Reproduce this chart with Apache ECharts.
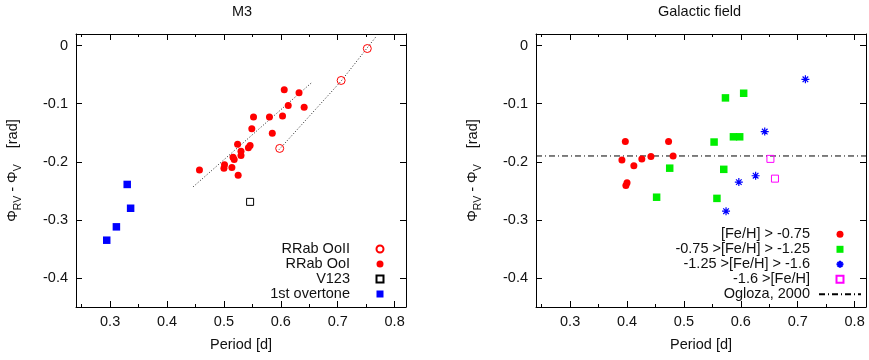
<!DOCTYPE html>
<html>
<head>
<meta charset="utf-8">
<script src="https://cdn.jsdelivr.net/npm/echarts@6/dist/echarts.min.js"></script>
<style>
html,body{margin:0;padding:0;background:#fff;}
#chart{width:869px;height:360px;}
</style>
</head>
<body>
<div id="chart"></div>
<script>
// ---- tick values ----
const xMajorTicks = [0.3, 0.4, 0.5, 0.6, 0.7, 0.8];
const xMinorTicks = [0.25, 0.35, 0.45, 0.55, 0.65, 0.75];
const yTicks = [0, -0.1, -0.2, -0.3, -0.4];

// ---- M3 panel: [period, phase difference] ----
const m3OoII = [[0.752, -0.005], [0.706, -0.060], [0.598, -0.177]];
const m3OoI = [
  [0.457, -0.214], [0.501, -0.205], [0.500, -0.211], [0.514, -0.210],
  [0.516, -0.192], [0.518, -0.196], [0.525, -0.223], [0.524, -0.170],
  [0.530, -0.182], [0.530, -0.189], [0.543, -0.176], [0.546, -0.172],
  [0.549, -0.143], [0.552, -0.123], [0.580, -0.123], [0.585, -0.151],
  [0.603, -0.121], [0.606, -0.076], [0.613, -0.103], [0.632, -0.081],
  [0.641, -0.106]
];
const m3V123 = [[0.546, -0.269]];
const m3Overtone = [[0.330, -0.239], [0.336, -0.280], [0.311, -0.312], [0.294, -0.335]];
const m3FitOoI = [[0.446, -0.243], [0.655, -0.063]];
const m3FitOoII = [[0.597, -0.179], [0.706, -0.061], [0.767, 0.015]];

// ---- Galactic field panel ----
const fieldMetalRich = [
  [0.397, -0.165], [0.391, -0.197], [0.412, -0.207], [0.426, -0.195],
  [0.442, -0.191], [0.473, -0.165], [0.481, -0.190], [0.400, -0.236],
  [0.398, -0.241]
];
const fieldMid = [
  [0.452, -0.261], [0.475, -0.211], [0.558, -0.263], [0.570, -0.213],
  [0.553, -0.166], [0.573, -0.090], [0.605, -0.082], [0.587, -0.157],
  [0.598, -0.157]
];
const fieldPoor = [[0.7135, -0.058], [0.642, -0.148], [0.626, -0.224], [0.5965, -0.235], [0.574, -0.285]];
const fieldVeryPoor = [[0.652, -0.195], [0.660, -0.229]];
const oglozaLine = [[0.24, -0.19], [0.82, -0.19]];

const xRange = [0.24, 0.82];
const yRange = [-0.45, 0.02];

const FONT = 'Liberation Sans, Arial, Helvetica, sans-serif';
const FS = 14.5;
const TXT = '#111';

const chart = echarts.init(document.getElementById('chart'), null, {renderer: 'canvas'});

function xAxes(gridIndex) {
  const base = {
    type: 'value', gridIndex, min: xRange[0], max: xRange[1],
    splitLine: {show: false}
  };
  return [
    Object.assign({}, base, {
      position: 'bottom',
      axisLine: {show: true, onZero: false, lineStyle: {color: '#000', width: 1}},
      axisTick: {show: true, inside: true, length: 6, customValues: xMajorTicks, lineStyle: {color: '#000'}},
      axisLabel: {show: true, customValues: xMajorTicks, margin: 7, color: TXT, fontSize: FS, fontFamily: FONT,
        formatter: v => v.toFixed(1)},
      name: 'Period [d]', nameLocation: 'middle', nameGap: 30,
      nameTextStyle: {color: TXT, fontSize: FS, fontFamily: FONT}
    }),
    Object.assign({}, base, {
      position: 'bottom',
      axisLine: {show: false, onZero: false},
      axisTick: {show: true, inside: true, length: 3, customValues: xMinorTicks, lineStyle: {color: '#000'}},
      axisLabel: {show: false}
    }),
    Object.assign({}, base, {
      position: 'top',
      axisLine: {show: true, onZero: false, lineStyle: {color: '#000', width: 1}},
      axisTick: {show: true, inside: true, length: 6, customValues: xMajorTicks, lineStyle: {color: '#000'}},
      axisLabel: {show: false}
    }),
    Object.assign({}, base, {
      position: 'top',
      axisLine: {show: false, onZero: false},
      axisTick: {show: true, inside: true, length: 3, customValues: xMinorTicks, lineStyle: {color: '#000'}},
      axisLabel: {show: false}
    })
  ];
}

function yAxes(gridIndex) {
  const base = {
    type: 'value', gridIndex, min: yRange[0], max: yRange[1],
    splitLine: {show: false}
  };
  return [
    Object.assign({}, base, {
      position: 'left',
      axisLine: {show: true, onZero: false, lineStyle: {color: '#000', width: 1}},
      axisTick: {show: true, inside: true, length: 6, customValues: yTicks, lineStyle: {color: '#000'}},
      axisLabel: {show: true, customValues: yTicks, margin: 8, color: TXT, fontSize: FS, fontFamily: FONT,
        formatter: v => (Math.abs(v) < 1e-9 ? '0' : v.toFixed(1))},
      name: '{m|Φ}{s|RV}{m| - Φ}{s|V}{m|    [rad]}',
      nameLocation: 'middle', nameRotate: 90, nameGap: 55,
      nameTextStyle: {
        color: TXT, fontSize: FS, fontFamily: FONT,
        rich: {
          m: {color: TXT, fontSize: FS, fontFamily: FONT, lineHeight: 16, verticalAlign: 'top'},
          s: {color: TXT, fontSize: 10.5, fontFamily: FONT, lineHeight: 11, verticalAlign: 'top', padding: [8, 0, 0, 0]}
        }
      }
    }),
    Object.assign({}, base, {
      position: 'right',
      axisLine: {show: true, onZero: false, lineStyle: {color: '#000', width: 1}},
      axisTick: {show: true, inside: true, length: 6, customValues: yTicks, lineStyle: {color: '#000'}},
      axisLabel: {show: false}
    })
  ];
}

const starPath = 'path://M5 0L5 10M0 5L10 5M1.5 1.5L8.5 8.5M8.5 1.5L1.5 8.5';
const squarePath = 'path://M0 0L10 0L10 10L0 10Z';

function scatter(name, data, xi, yi, symbol, size, itemStyle) {
  return {
    name, type: 'scatter', data, xAxisIndex: xi, yAxisIndex: yi,
    symbol, symbolSize: size, itemStyle: Object.assign({opacity: 1}, itemStyle), symbolKeepAspect: true,
    emphasis: {disabled: true}, animation: false, z: 5
  };
}
function line(name, data, xi, yi, lineStyle) {
  return {
    name, type: 'line', data, xAxisIndex: xi, yAxisIndex: yi,
    showSymbol: false, symbol: 'none', lineStyle, silent: true, animation: false, z: 3
  };
}

const legendBase = {
  orient: 'vertical', align: 'right', itemWidth: 42, itemHeight: 7, itemGap: 0, padding: 0,
  selectedMode: false, inactiveColor: '#000',
  textStyle: {color: TXT, fontSize: FS, fontFamily: FONT, lineHeight: 15, padding: [0, 4, 0, 0]}
};

const option = {
  backgroundColor: '#fff',
  animation: false,
  title: [
    {text: 'M3', left: 232, top: 4, padding: 0, textStyle: {color: TXT, fontSize: FS, fontWeight: 'normal', fontFamily: FONT}},
    {text: 'Galactic field', left: 658, top: 4, padding: 0, textStyle: {color: TXT, fontSize: FS, fontWeight: 'normal', fontFamily: FONT}}
  ],
  grid: [
    {left: 76, top: 34, width: 330, height: 273, containLabel: false},
    {left: 536, top: 34, width: 330, height: 273, containLabel: false}
  ],
  xAxis: xAxes(0).concat(xAxes(1)),
  yAxis: yAxes(0).concat(yAxes(1)),
  legend: [
    Object.assign({}, legendBase, {
      right: 484.5, top: 241.5,
      data: ['RRab OoII', 'RRab OoI', 'V123', '1st overtone']
    }),
    Object.assign({}, legendBase, {
      right: 7, top: 226.8,
      data: [
        '[Fe/H] > -0.75', '-0.75 >[Fe/H] > -1.25', '-1.25 >[Fe/H] > -1.6', '-1.6 >[Fe/H]',
        {name: 'Ogloza, 2000', itemStyle: {color: 'rgba(0,0,0,0)', borderColor: 'rgba(0,0,0,0)', borderWidth: 0, opacity: 0}}
      ]
    })
  ],
  series: [
    line('fit OoI', m3FitOoI, 0, 0, {color: '#222', width: 1, type: [1, 2]}),
    line('fit OoII', m3FitOoII, 0, 0, {color: '#222', width: 1, type: [1, 2]}),
    scatter('RRab OoII', m3OoII, 0, 0, 'circle', 8, {color: 'rgba(255,255,255,0)', borderColor: '#ff0000', borderWidth: 1}),
    scatter('RRab OoI', m3OoI, 0, 0, 'circle', 7, {color: '#ff0000'}),
    scatter('V123', m3V123, 0, 0, squarePath, 7, {color: 'rgba(255,255,255,0)', borderColor: '#000', borderWidth: 1}),
    scatter('1st overtone', m3Overtone, 0, 0, squarePath, 7.5, {color: '#0000ff'}),

    line('Ogloza, 2000', oglozaLine, 4, 2, {color: '#000', width: 1, type: [6, 3, 1, 3]}),
    scatter('[Fe/H] > -0.75', fieldMetalRich, 4, 2, 'circle', 7, {color: '#ff0000'}),
    scatter('-0.75 >[Fe/H] > -1.25', fieldMid, 4, 2, squarePath, 7.5, {color: '#00ee00'}),
    scatter('-1.25 >[Fe/H] > -1.6', fieldPoor, 4, 2, starPath, 8, {color: 'rgba(0,0,0,0)', borderColor: '#0000ff', borderWidth: 1.2}),
    scatter('-1.6 >[Fe/H]', fieldVeryPoor, 4, 2, squarePath, 7, {color: 'rgba(255,255,255,0)', borderColor: '#ff00ff', borderWidth: 1})
  ]
};

chart.setOption(option);
</script>
</body>
</html>
